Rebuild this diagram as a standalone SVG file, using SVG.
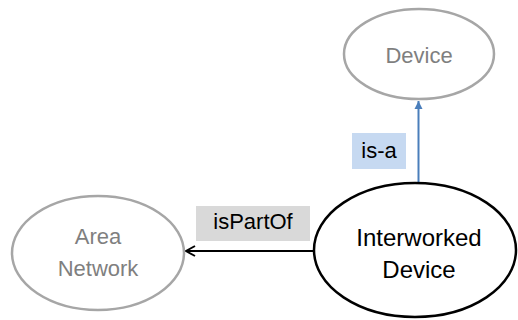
<svg xmlns="http://www.w3.org/2000/svg" width="518" height="320" viewBox="0 0 518 320">
<defs>
<style>
.g{fill:none;stroke:#a6a6a6;stroke-width:2.5}
.k{fill:none;stroke:#000;stroke-width:2.5}
text{font-family:"Liberation Sans",Arial,sans-serif;font-size:22px;text-anchor:middle}
.gt{fill:#7f7f7f}
.kt{fill:#000}
.big{font-size:24px}
</style>
<marker id="ab" markerWidth="10" markerHeight="10" refX="8" refY="5" orient="auto" markerUnits="userSpaceOnUse"><path d="M0,1 L8,5 L0,9 Z" fill="#4a7ebb"/></marker>
<marker id="ak" markerWidth="12" markerHeight="12" refX="10" refY="6" orient="auto" markerUnits="userSpaceOnUse"><path d="M1,1 L10,6 L1,11" fill="none" stroke="#000" stroke-width="2"/></marker>
</defs>
<g id="connectors">
<line x1="418.5" y1="183" x2="418.5" y2="101" stroke="#4a7ebb" stroke-width="2" marker-end="url(#ab)"/>
<rect x="352" y="133" width="54" height="36" fill="#c6d9f1"/>
<text x="379" y="158" class="kt">is-a</text>
<line x1="313" y1="251" x2="186" y2="251" stroke="#000" stroke-width="2" marker-end="url(#ak)"/>
<rect x="196" y="206" width="114" height="35" fill="#d9d9d9"/>
<text x="253" y="229" class="kt">isPartOf</text>
</g>
<g id="device">
<ellipse cx="419" cy="54" rx="75" ry="45" class="g"/>
<text x="419" y="63" class="gt">Device</text>
</g>
<g id="area-network">
<ellipse cx="98" cy="253" rx="86" ry="57" class="g"/>
<text x="98" y="244" class="gt">Area</text>
<text x="98" y="276" class="gt">Network</text>
</g>
<g id="interworked-device">
<ellipse cx="415" cy="250" rx="101" ry="67" class="k"/>
<text x="419" y="246" class="kt big">Interworked</text>
<text x="419" y="278" class="kt big">Device</text>
</g>
</svg>
